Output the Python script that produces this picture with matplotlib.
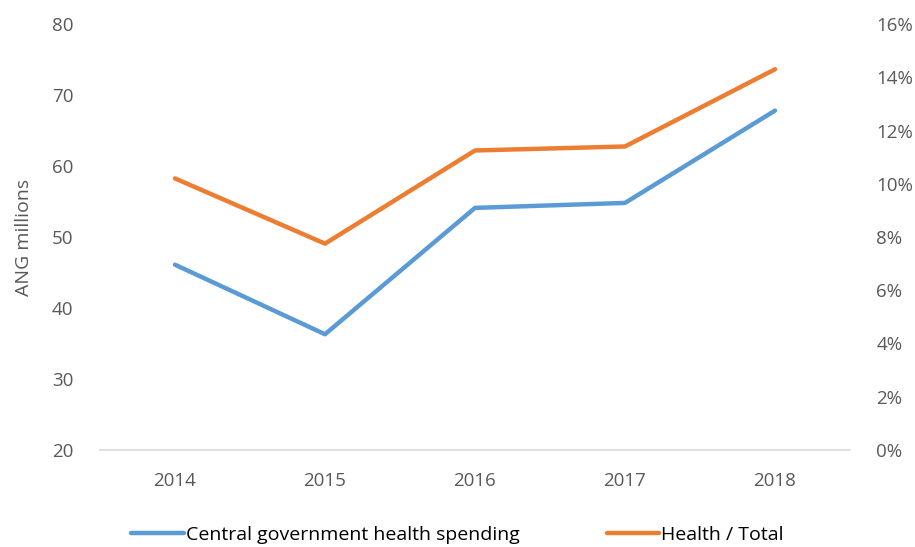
import matplotlib.pyplot as plt
from matplotlib.ticker import FuncFormatter

years = ["2014", "2015", "2016", "2017", "2018"]
spending = [46.1, 36.3, 54.1, 54.8, 67.8]          # ANG millions
health_share = [10.2, 7.75, 11.25, 11.4, 14.3]     # percent of total

blue = "#5B9BD5"
orange = "#ED7D31"
grey = "#595959"

plt.rcParams['font.family'] = ['Open Sans', 'DejaVu Sans']

fig = plt.figure(figsize=(9.15, 5.47), dpi=100)
ax = fig.add_axes([100/915, 1-450/547, 750/915, 426/547])
ax2 = ax.twinx()

x = range(len(years))
l1, = ax.plot(x, spending, color=blue, lw=3.2, solid_capstyle='round', zorder=3)
l2, = ax2.plot(x, health_share, color=orange, lw=3.2, solid_capstyle='round', zorder=3)

ax.set_xlim(-0.5, 4.5)
ax.set_ylim(20, 80)
ax.set_yticks(range(20, 81, 10))
ax2.set_ylim(0, 16)
ax2.set_yticks(range(0, 17, 2))
ax2.yaxis.set_major_formatter(FuncFormatter(lambda v, p: f"{v:.0f}%"))
ax.set_xticks(list(x))
ax.set_xticklabels(years)

for a in (ax, ax2):
    for s in a.spines.values():
        s.set_visible(False)
    a.tick_params(length=0, labelsize=13.5, colors=grey)
ax.spines['bottom'].set_visible(True)
ax.spines['bottom'].set_color("#D9D9D9")
ax.spines['bottom'].set_linewidth(1.2)
ax.tick_params(axis='x', pad=16)
ax.tick_params(axis='y', pad=19)
ax2.tick_params(axis='y', pad=19)

ax.set_ylabel("ANG millions", fontsize=14, color=grey, labelpad=14)

fig.legend([l1, l2], ["Central government health spending", "Health / Total"],
           loc='center', bbox_to_anchor=(0.5, 1-535/547), ncol=2, frameon=False,
           fontsize=14, handlelength=2.7, handletextpad=0.1, columnspacing=4.5)

fig.savefig("out.png", dpi=100)
